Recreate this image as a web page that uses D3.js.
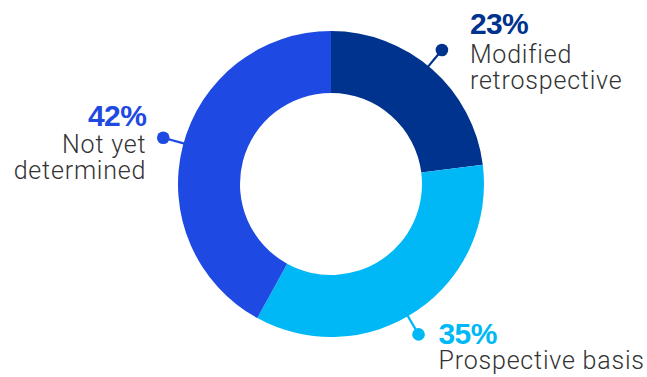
<!DOCTYPE html>
<html>
<head>
<meta charset="utf-8">
<script src="https://cdn.jsdelivr.net/npm/d3@7/dist/d3.min.js"></script>
<style>
  html, body { margin: 0; padding: 0; background: #fff; }
  svg { display: block; }
</style>
</head>
<body>
<svg id="chart" width="647" height="377"></svg>
<script>
// Transition approach shares
const categories = ["Modified retrospective", "Prospective basis", "Not yet determined"];
const shares = [23, 35, 42];
const labelLines = [["Modified", "retrospective"], ["Prospective basis"], ["Not yet", "determined"]];
const colors = ["#00338D", "#00B8F5", "#1E49E2"];

const W = 647, H = 377;
const cx = 331, cy = 184;
const outerR = 153, innerR = 91, dotR = 174;

const svg = d3.select("#chart");
const g = svg.append("g").attr("transform", `translate(${cx},${cy})`);

const data = categories.map((c, i) => ({ name: c, value: shares[i], lines: labelLines[i], color: colors[i] }));

const pie = d3.pie().value(d => d.value).sort(null);
const arcs = pie(data);
const arc = d3.arc().innerRadius(innerR).outerRadius(outerR);

g.selectAll("path.slice")
  .data(arcs)
  .join("path")
  .attr("class", "slice")
  .attr("d", arc)
  .attr("fill", d => d.data.color);

// Leader lines with a dot, placed near each slice's middle angle
const nudge = [-1.8, 4, 1];
const polar = (a, r) => [r * Math.sin(a), -r * Math.cos(a)];

const leaders = arcs.map((d, i) => {
  const a = (d.startAngle + d.endAngle) / 2 + nudge[i] * Math.PI / 180;
  return { d, i, p0: polar(a, outerR - 1), p1: polar(a, dotR) };
});

g.selectAll("line.leader")
  .data(leaders)
  .join("line")
  .attr("class", "leader")
  .attr("x1", l => l.p0[0]).attr("y1", l => l.p0[1])
  .attr("x2", l => l.p1[0]).attr("y2", l => l.p1[1])
  .attr("stroke", l => l.d.data.color)
  .attr("stroke-width", 2.2);

g.selectAll("circle.dot")
  .data(leaders)
  .join("circle")
  .attr("class", "dot")
  .attr("cx", l => l.p1[0]).attr("cy", l => l.p1[1])
  .attr("r", 6.3)
  .attr("fill", l => l.d.data.color);

// Label blocks: offset from each dot, gap from percentage to first text line
const labelLayout = [
  { dx: 28, dy: -16, gap: 29, anchor: "start" },
  { dx: 20, dy: 10, gap: 25, anchor: "start" },
  { dx: -17, dy: -12, gap: 27, anchor: "end" }
];

leaders.forEach((l, i) => {
  const lay = labelLayout[i];
  const x = cx + l.p1[0] + lay.dx;
  const y = cy + l.p1[1] + lay.dy;
  const t = svg.append("text")
    .attr("x", x).attr("y", y)
    .attr("text-anchor", lay.anchor);
  t.append("tspan")
    .attr("x", x).attr("y", y)
    .attr("font-family", "'Liberation Sans', Arial, sans-serif")
    .attr("font-size", 30)
    .attr("font-weight", "bold")
    .attr("letter-spacing", -0.6)
    .attr("fill", l.d.data.color)
    .text(l.d.data.value + "%");
  l.d.data.lines.forEach((line, k) => {
    t.append("tspan")
      .attr("x", x).attr("y", y + lay.gap + k * 26)
      .attr("font-family", "Roboto, 'Liberation Sans', sans-serif")
      .attr("font-weight", 300)
      .attr("font-size", 25)
      .attr("letter-spacing", 0.8)
      .attr("fill", "#333")
      .text(line);
  });
});
</script>
</body>
</html>
